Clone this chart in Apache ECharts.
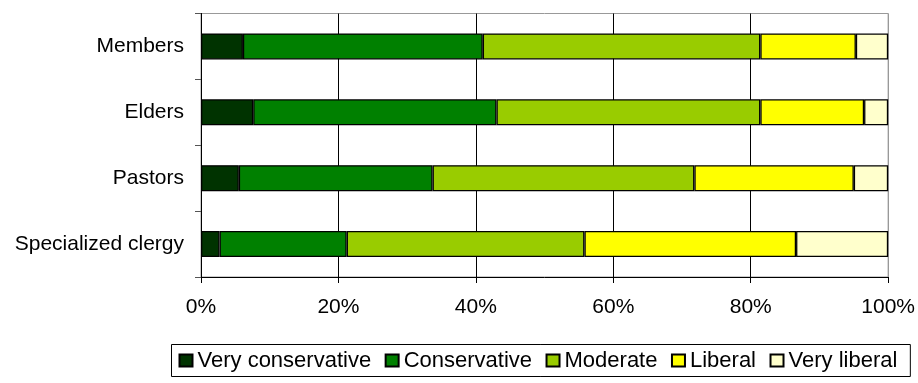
<!DOCTYPE html>
<html>
<head>
<meta charset="utf-8">
<script src="https://cdn.jsdelivr.net/npm/echarts@6/dist/echarts.min.js"></script>
<style>
html,body{margin:0;padding:0;background:#fff;}
#c{width:918px;height:383px;}
</style>
</head>
<body>
<div id="c"></div>
<script>
const categories = ['Members', 'Elders', 'Pastors', 'Specialized clergy'];
const seriesNames = ['Very conservative', 'Conservative', 'Moderate', 'Liberal', 'Very liberal'];
const veryConservative = [6.1, 7.6, 5.5, 2.7];
const conservative = [34.9, 35.4, 28.2, 18.5];
const moderate = [40.4, 38.4, 38.1, 34.6];
const liberal = [13.9, 15.1, 23.2, 30.8];
const veryLiberal = [4.7, 3.5, 5.0, 13.4];
const xTicks = [0, 20, 40, 60, 80, 100];

const colors = ['#003300', '#008000', '#99CC00', '#FFFF00', '#FFFFCC'];
const values = [veryConservative, conservative, moderate, liberal, veryLiberal];
const font = '"Liberation Sans", Arial, sans-serif';

const chart = echarts.init(document.getElementById('c'), null, {renderer: 'canvas'});
chart.setOption({
  animation: false,
  backgroundColor: '#fff',
  textStyle: {fontFamily: font, color: '#000'},
  grid: {left: 201, right: 28.5, top: 13.5, bottom: 106, show: true, borderColor: '#999', borderWidth: 1, backgroundColor: 'transparent'},
  legend: {
    left: 171.5, top: 344.5,
    data: seriesNames,
    itemWidth: 13, itemHeight: 12, itemGap: 13.5,
    padding: [5, 13, 5, 7],
    borderColor: '#000', borderWidth: 1,
    textStyle: {fontSize: 22, color: '#000', fontFamily: font},
    icon: 'rect'
  },
  xAxis: {
    type: 'value', min: xTicks[0], max: xTicks[xTicks.length - 1], interval: 20,
    axisLine: {show: true, lineStyle: {color: '#000', width: 1}},
    axisTick: {show: true, length: 6, lineStyle: {color: '#000'}},
    axisLabel: {formatter: '{value}%', fontSize: 21, color: '#000', margin: 20, fontFamily: font},
    splitLine: {show: true, lineStyle: {color: ['#000', '#000', '#000', '#000', '#000', '#999'], width: 1}}
  },
  yAxis: {
    type: 'category', data: categories, inverse: true,
    axisLine: {show: true, lineStyle: {color: '#000', width: 1}},
    axisTick: {show: true, length: 6, lineStyle: {color: '#555'}},
    axisLabel: {fontSize: 21, color: '#000', margin: 17, fontFamily: font}
  },
  series: seriesNames.map((n, i) => ({
    name: n, type: 'bar', stack: 'total', data: values[i],
    barWidth: 26,
    itemStyle: {color: colors[i], borderColor: '#000', borderWidth: 1.3}
  }))
});
</script>
</body>
</html>
